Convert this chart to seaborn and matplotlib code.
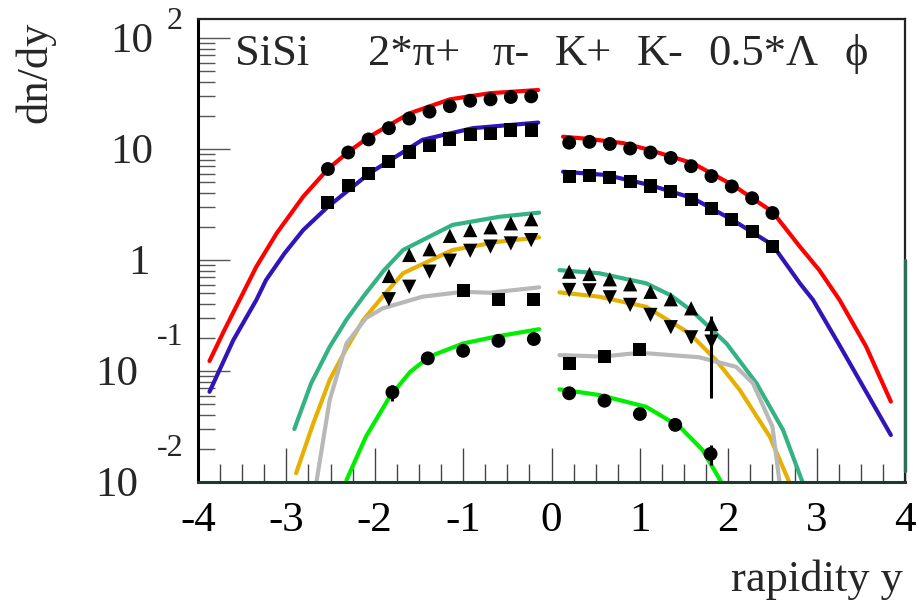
import numpy as np
import pandas as pd
import matplotlib
matplotlib.use("Agg")
import matplotlib.pyplot as plt
from matplotlib.ticker import FixedLocator, NullFormatter
import seaborn as sns

# ---------------- measured data points ----------------
pip_left_y = [-2.53, -2.30, -2.07, -1.84, -1.61, -1.38, -1.15, -0.92, -0.69, -0.46, -0.23]
pip_left_v = [6.6, 9.3, 12.2, 15.4, 18.8, 21.7, 24.3, 27.2, 28.0, 29.4, 29.8]
pip_right_y = [0.20, 0.43, 0.66, 0.89, 1.12, 1.35, 1.58, 1.81, 2.04, 2.27, 2.50]
pip_right_v = [11.4, 11.6, 11.1, 10.1, 9.3, 8.3, 7.0, 5.7, 4.6, 3.6, 2.65]

pim_left_v = [3.28, 4.71, 6.04, 7.69, 9.4, 10.8, 12.3, 13.5, 13.9, 14.8, 14.8]
pim_right_v = [5.63, 5.74, 5.51, 5.12, 4.64, 4.16, 3.52, 2.90, 2.31, 1.81, 1.33]

k_left_y = [-1.84, -1.61, -1.38, -1.15, -0.92, -0.69, -0.46, -0.23]
k_right_y = [0.20, 0.43, 0.66, 0.89, 1.12, 1.35, 1.58, 1.81]
kp_left_v = [0.718, 1.11, 1.25, 1.65, 1.86, 1.97, 2.14, 2.33]
kp_right_v = [0.785, 0.748, 0.670, 0.604, 0.517, 0.443, 0.367, 0.265]
km_left_v = [0.443, 0.574, 0.785, 0.986, 1.21, 1.32, 1.41, 1.51]
km_right_v = [0.537, 0.533, 0.461, 0.394, 0.320, 0.248, 0.201, 0.184]
km_right_err = [0, 0, 0, 0, 0, 0, 0.02, 0.127]

lam_left_y = [-1.0, -0.6, -0.2]
lam_left_v = [0.528, 0.443, 0.437]
lam_right_y = [0.2, 0.6, 1.0]
lam_right_v = [0.117, 0.136, 0.155]

phi_left_y = [-1.8, -1.4, -1.0, -0.6, -0.2]
phi_left_v = [0.0643, 0.130, 0.152, 0.187, 0.194]
phi_left_err = [0.011, 0, 0, 0, 0]
phi_right_y = [0.2, 0.6, 1.0, 1.4, 1.8]
phi_right_v = [0.063, 0.054, 0.041, 0.0327, 0.0179]
phi_right_err = [0, 0, 0, 0, 0.0037]

# ---------------- model curves ----------------
red_l_y = [-3.87, -3.70, -3.53, -3.34, -3.11, -2.81, -2.53, -2.30, -2.06, -1.61, -1.15, -0.70, -0.15]
red_l_v = [0.123, 0.235, 0.436, 0.87, 1.74, 3.72, 6.6, 9.4, 12.9, 20.9, 28.0, 31.8, 34.0]
red_r_y = [0.13, 0.43, 0.81, 1.11, 1.60, 2.05, 2.50, 2.81, 3.03, 3.26, 3.56, 3.84]
red_r_v = [12.9, 12.3, 11.3, 9.8, 7.43, 4.74, 2.72, 1.32, 0.81, 0.436, 0.166, 0.053]

blue_l_y = [-3.87, -3.60, -3.34, -3.23, -3.02, -2.81, -2.53, -2.06, -1.46, -0.89, -0.15]
blue_l_v = [0.065, 0.19, 0.436, 0.66, 1.15, 1.86, 3.02, 6.04, 12.1, 15.4, 17.3]
blue_r_y = [0.13, 0.62, 1.11, 1.60, 2.05, 2.50, 2.81, 2.96, 3.26, 3.84]
blue_r_v = [6.24, 5.83, 4.74, 3.6, 2.29, 1.37, 0.617, 0.436, 0.17, 0.0265]

teal_l_y = [-2.91, -2.72, -2.51, -2.32, -2.13, -1.90, -1.68, -1.12, -0.59, -0.14]
teal_l_v = [0.030, 0.0774, 0.165, 0.29, 0.467, 0.80, 1.23, 2.07, 2.45, 2.67]
teal_r_y = [0.09, 0.54, 1.07, 1.35, 1.60, 1.98, 2.32, 2.62, 2.84]
teal_r_v = [0.81, 0.759, 0.617, 0.48, 0.342, 0.177, 0.0774, 0.0294, 0.0100]

gold_l_y = [-2.89, -2.70, -2.51, -2.32, -2.13, -1.90, -1.68, -1.12, -0.60, -0.14]
gold_l_v = [0.012, 0.033, 0.083, 0.16, 0.288, 0.48, 0.759, 1.23, 1.46, 1.60]
gold_r_y = [0.09, 0.54, 1.07, 1.56, 1.86, 2.13, 2.47, 2.69]
gold_r_v = [0.511, 0.467, 0.379, 0.219, 0.126, 0.0675, 0.0256, 0.0100]

gray_l_y = [-2.66, -2.51, -2.32, -2.10, -1.91, -1.46, -1.00, -0.70, -0.14]
gray_l_v = [0.010, 0.0548, 0.177, 0.299, 0.367, 0.467, 0.517, 0.507, 0.567]
gray_r_y = [0.09, 0.58, 1.00, 1.67, 2.09, 2.28, 2.50, 2.58]
gray_r_v = [0.139, 0.135, 0.146, 0.133, 0.109, 0.0774, 0.0315, 0.0100]

green_l_y = [-2.32, -2.10, -1.83, -1.60, -1.38, -1.00, -0.63, -0.14]
green_l_v = [0.0104, 0.0256, 0.0587, 0.098, 0.135, 0.177, 0.204, 0.238]
green_r_y = [0.09, 0.54, 1.07, 1.45, 1.71, 1.92]
green_r_v = [0.0684, 0.0608, 0.0476, 0.0315, 0.0194, 0.0100]

legend_items = ["SiSi", "2*\u03c0+", "\u03c0-", "K+", "K-", "0.5*\u039b", "\u03d5"]
x_ticks = [-4, -3, -2, -1, 0, 1, 2, 3, 4]

# ---------------- styling ----------------
sns.set_theme(style="white")
plt.rcParams["font.family"] = ["Liberation Serif", "DejaVu Serif"]
plt.rcParams["axes.unicode_minus"] = False

W, H = 919, 600
fig = plt.figure(figsize=(W / 100, H / 100), dpi=100)
L, R, T, B = 198, 905, 19, 482
ax = fig.add_axes([L / W, 1 - B / H, (R - L) / W, (B - T) / H])
ax.set_facecolor("white")

RED, BLUE, TEAL, GOLD, GRAY, GREEN = "#ff0000", "#3314b8", "#33b383", "#e6b000", "#b8b8b8", "#00ee00"

curves = [
    (red_l_y, red_l_v, RED), (red_r_y, red_r_v, RED),
    (blue_l_y, blue_l_v, BLUE), (blue_r_y, blue_r_v, BLUE),
    (teal_l_y, teal_l_v, TEAL), (teal_r_y, teal_r_v, TEAL),
    (gold_l_y, gold_l_v, GOLD), (gold_r_y, gold_r_v, GOLD),
    (gray_l_y, gray_l_v, GRAY), (gray_r_y, gray_r_v, GRAY),
    (green_l_y, green_l_v, GREEN), (green_r_y, green_r_v, GREEN),
]
for yy, vv, col in curves:
    df = pd.DataFrame({"y": yy, "v": vv})
    sns.lineplot(data=df, x="y", y="v", color=col, lw=3.0, sort=False,
                 estimator=None, ax=ax, zorder=2)

points = [
    (pip_left_y + pip_right_y, pip_left_v + pip_right_v, "o", 100),
    (pip_left_y + pip_right_y, pim_left_v + pim_right_v, "s", 90),
    (k_left_y + k_right_y, kp_left_v + kp_right_v, "^", 105),
    (k_left_y + k_right_y, km_left_v + km_right_v, "v", 105),
    (lam_left_y + lam_right_y, lam_left_v + lam_right_v, "s", 90),
    (phi_left_y + phi_right_y, phi_left_v + phi_right_v, "o", 100),
]
for yy, vv, mk, sz in points:
    df = pd.DataFrame({"y": yy, "v": vv})
    sns.scatterplot(data=df, x="y", y="v", marker=mk, s=sz, color="black",
                    edgecolor="none", ax=ax, zorder=4)

# error bars where visible
ax.errorbar(k_right_y, km_right_v, yerr=km_right_err, fmt="none", ecolor="black",
            elinewidth=2.2, zorder=3)
ax.errorbar(phi_left_y, phi_left_v, yerr=phi_left_err, fmt="none", ecolor="black",
            elinewidth=2.2, zorder=3)
ax.errorbar(phi_right_y, phi_right_v, yerr=phi_right_err, fmt="none", ecolor="black",
            elinewidth=2.2, zorder=3)

ax.set_yscale("log")
ax.set_xlim(-4, 4)
ax.set_ylim(0.01, 10 ** 2.171)
ax.set_xlabel("")
ax.set_ylabel("")

# ticks: inside, left and bottom only
ax.xaxis.set_major_locator(FixedLocator(x_ticks))
ax.xaxis.set_minor_locator(FixedLocator(np.arange(-4, 4.01, 0.25)))
ax.set_xticklabels([str(t) for t in x_ticks])
ax.yaxis.set_major_locator(FixedLocator([0.01, 0.1, 1, 10, 100]))
ax.yaxis.set_minor_locator(FixedLocator(
    [m * 10.0 ** e for e in range(-2, 3) for m in range(2, 10)]))
ax.yaxis.set_major_formatter(NullFormatter())
ax.yaxis.set_minor_formatter(NullFormatter())
ax.tick_params(axis="x", which="major", direction="in", length=24.5, width=1.0,
               color="#444444", labelsize=31, pad=14, top=False, bottom=True,
               labelcolor="black")
ax.tick_params(axis="x", which="minor", direction="in", length=13, width=1.0,
               color="#444444", top=False, bottom=True)
ax.tick_params(axis="y", which="major", direction="in", length=23, width=1.0,
               color="#555555", left=True, right=False)
ax.tick_params(axis="y", which="minor", direction="in", length=12, width=1.0,
               color="#555555", left=True, right=False)

# frame
for side in ["left", "bottom", "top", "right"]:
    ax.spines[side].set_visible(True)
ax.spines["left"].set_linewidth(2.2)
ax.spines["left"].set_color("black")
ax.spines["bottom"].set_linewidth(2.2)
ax.spines["bottom"].set_color("#1d3a30")
ax.spines["top"].set_linewidth(1.6)
ax.spines["top"].set_color("#222222")
ax.spines["right"].set_linewidth(1.6)
ax.spines["right"].set_color("#222222")
ax.plot([4, 4], [0.0125, 1.0], color="#2e6e58", lw=2.4, clip_on=False, zorder=5)

# y tick labels drawn as 10 with raised exponent
ytr = ax.get_yaxis_transform()
y_decades = [(100, "2", -0.0637, 16), (10, None, -0.0637, 0), (1, None, -0.0680, 0),
             (0.1, "-1", -0.0849, 33), (0.01, "-2", -0.0849, 33)]
for val, expo, xb, rise in y_decades:
    base = "1" if val == 1 else "10"
    ax.annotate(base, xy=(xb, val), xycoords=ytr, ha="right", va="center",
                fontsize=31, xytext=(0, -3), textcoords="offset points",
                annotation_clip=False)
    if expo is not None:
        ax.annotate(expo, xy=(-0.0212, val), xycoords=ytr, ha="right", va="center",
                    fontsize=23, xytext=(0, rise * 0.72), textcoords="offset points",
                    annotation_clip=False)

# axis titles
fig.text(35 / W, 1 - 72 / H, "dn/dy", rotation=90, ha="center", va="center", fontsize=32)
fig.text(903 / W, 1 - 580 / H, "rapidity y", ha="right", va="center", fontsize=32)

# species header
header_x = [235, 368, 492, 555, 637, 708, 845]
for txt, px in zip(legend_items, header_x):
    fig.text(px / W, 1 - 65 / H, txt, ha="left", va="baseline", fontsize=32)

fig.savefig("out.png", dpi=100, facecolor="white")
